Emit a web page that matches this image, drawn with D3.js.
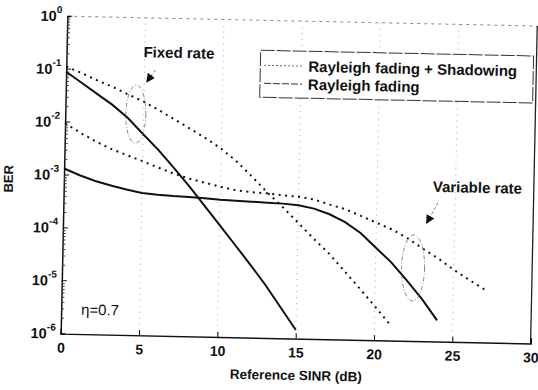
<!DOCTYPE html>
<html>
<head>
<meta charset="utf-8">
<script src="https://cdn.jsdelivr.net/npm/d3@7"></script>
<style>
  body { margin: 0; background: #fff; }
  text { font-family: "Liberation Sans", Arial, sans-serif; fill: #111; }
</style>
</head>
<body>
<script>
// SNR axis (dB)
const snrFixedR = [0,1,2,3,4,5,6,7,8,9,10,11,12,13,14,15];
const berFixedR = [8.9e-2,5.6e-2,3.5e-2,2.2e-2,1.26e-2,6.3e-3,3.2e-3,1.5e-3,6.9e-4,3.0e-4,1.3e-4,5.6e-5,2.4e-5,1.0e-5,3.8e-6,1.45e-6];

const snrFixedS = [0,1,2,3,4,5,6,7,8,9,10,11,12,13,14,15,16,17,18,19,20,21];
const berFixedS = [1.12e-1,8.5e-2,6.3e-2,4.8e-2,3.5e-2,2.6e-2,1.8e-2,1.23e-2,8.3e-3,5.6e-3,3.6e-3,2.1e-3,1.1e-3,5.6e-4,3.0e-4,1.55e-4,7.9e-5,4.2e-5,2.0e-5,9.5e-6,4.4e-6,2.0e-6];

const snrVarS = [0,1,2,3,4,5,6,7,8,9,10,11,12,13,14,15,16,17,18,19,20,21,22,23,24,25,26,27];
const berVarS = [9.5e-3,6.3e-3,4.4e-3,3.2e-3,2.5e-3,1.95e-3,1.5e-3,1.17e-3,9.5e-4,8.1e-4,6.9e-4,6.0e-4,5.6e-4,5.4e-4,5.0e-4,4.8e-4,4.3e-4,3.5e-4,2.9e-4,2.2e-4,1.66e-4,1.26e-4,8.7e-5,5.6e-5,3.7e-5,2.3e-5,1.5e-5,1.0e-5];

const snrVarR = [0,1,2,3,4,5,6,7,8,9,10,11,12,13,14,15,16,17,18,19,20,21,22,23,24];
const berVarR = [1.32e-3,1.0e-3,7.9e-4,6.6e-4,5.6e-4,4.9e-4,4.6e-4,4.4e-4,4.3e-4,4.1e-4,3.9e-4,3.8e-4,3.7e-4,3.6e-4,3.5e-4,3.3e-4,2.9e-4,2.3e-4,1.66e-4,1.05e-4,5.6e-5,3.0e-5,1.4e-5,6.3e-6,2.5e-6];

const xTicks = [0,5,10,15,20,25,30];
const yExps = [0,-1,-2,-3,-4,-5,-6];
const legendLabels = ['Rayleigh fading + Shadowing', 'Rayleigh fading'];

const width = 538, height = 390;
const margin = {top: 21, right: 4, bottom: 51.5, left: 64};

const svg = d3.select('body').append('svg')
  .attr('width', width)
  .attr('height', height);

// whole figure is slightly tilted, like the scanned page
const g = svg.append('g').attr('transform', 'rotate(1.2,295,178)');

const x = d3.scaleLinear().domain([0, 30]).range([margin.left, width - margin.right]);
const y = d3.scaleLog().domain([1e-6, 1]).range([height - margin.bottom, margin.top]);

// faint grid
g.append('g').selectAll('line')
  .data(xTicks.slice(1, -1))
  .join('line')
  .attr('x1', d => x(d)).attr('x2', d => x(d))
  .attr('y1', y(1)).attr('y2', y(1e-6))
  .attr('stroke', '#aaa').attr('stroke-width', 1)
  .attr('stroke-dasharray', '1,5');

// frame
g.append('line')
  .attr('x1', x(0)).attr('x2', x(30)).attr('y1', y(1)).attr('y2', y(1))
  .attr('stroke', '#888').attr('stroke-dasharray', '3,4');
g.append('line')
  .attr('x1', x(30)).attr('x2', x(30)).attr('y1', y(1)).attr('y2', y(1e-6))
  .attr('stroke', '#222').attr('stroke-width', 1.3);

const xAxis = g.append('g')
  .attr('transform', `translate(0,${y(1e-6)})`)
  .call(d3.axisBottom(x).tickValues(xTicks).tickSize(-5).tickFormat(d3.format('d')).tickPadding(9))
  .call(a => a.select('.domain').attr('stroke', '#111').attr('stroke-width', 1.5));
xAxis.selectAll('text')
  .style('font-size', '14px').style('font-weight', 'bold');

// y axis: decades + minor ticks
const minor = [];
for (let e = -6; e < 0; e++) for (let m = 2; m <= 9; m++) minor.push(m * Math.pow(10, e));
const yAxis = g.append('g')
  .attr('transform', `translate(${x(0)},0)`)
  .call(d3.axisLeft(y).tickValues(minor).tickSize(-3).tickFormat(''))
  .call(a => a.select('.domain').attr('stroke', '#111').attr('stroke-width', 1.5));
yAxis.selectAll('.tick line').attr('stroke', '#444');

const yMajor = g.append('g').selectAll('g')
  .data(yExps)
  .join('g')
  .attr('transform', d => `translate(0,${y(Math.pow(10, d))})`);
yMajor.append('line')
  .attr('x1', x(0)).attr('x2', x(0) + 5)
  .attr('stroke', '#111');
const yt = yMajor.append('text')
  .attr('x', x(0) - 5).attr('y', 5)
  .attr('text-anchor', 'end')
  .style('font-weight', 'bold');
yt.append('tspan').style('font-size', '14.5px').text('10');
yt.append('tspan').attr('dy', -8).style('font-size', '10px').text(d => d === 0 ? '0' : '-' + (-d));

// axis titles
g.append('text')
  .attr('x', x(15) + 1).attr('y', 380)
  .attr('text-anchor', 'middle')
  .style('font-size', '13.5px').style('font-weight', 'bold')
  .text('Reference SINR (dB)');
g.append('text')
  .attr('transform', `translate(13,${y(1e-3) + 5}) rotate(-90)`)
  .attr('text-anchor', 'middle')
  .style('font-size', '13px').style('font-weight', 'bold')
  .text('BER');

// curves
const line = d3.line().x(d => x(d[0])).y(d => y(d[1]));
const series = [
  {snr: snrFixedS, ber: berFixedS, dotted: true},
  {snr: snrVarS, ber: berVarS, dotted: true},
  {snr: snrFixedR, ber: berFixedR, dotted: false},
  {snr: snrVarR, ber: berVarR, dotted: false}
];
g.append('g').selectAll('path')
  .data(series)
  .join('path')
  .attr('d', s => line(s.snr.map((v, i) => [v, s.ber[i]])))
  .attr('fill', 'none')
  .attr('stroke', '#111')
  .attr('stroke-width', 2)
  .attr('stroke-dasharray', s => s.dotted ? '2,4.5' : null);

// legend
const lg = g.append('g');
lg.append('rect')
  .attr('x', 258).attr('y', 51).attr('width', 273).attr('height', 47)
  .attr('fill', '#fff').attr('stroke', '#333').attr('stroke-width', 1)
  .attr('stroke-dasharray', '14,2');
lg.selectAll('g.item')
  .data(legendLabels)
  .join('g')
  .attr('class', 'item')
  .attr('transform', (d, i) => `translate(0,${66 + i * 18})`)
  .each(function (d, i) {
    d3.select(this).append('line')
      .attr('x1', 262).attr('x2', 300)
      .attr('stroke', '#333').attr('stroke-width', 1)
      .attr('stroke-dasharray', i === 0 ? '1.5,2.5' : '7,2');
    d3.select(this).append('text')
      .attr('x', 306).attr('y', 5.5)
      .style('font-size', '15px').style('font-weight', 'bold')
      .text(d);
  });

// annotations
const ann = g.append('g');
ann.append('ellipse')
  .attr('cx', x(4.5)).attr('cy', y(1.5e-2))
  .attr('rx', 10).attr('ry', 29)
  .attr('fill', 'none').attr('stroke', '#666').attr('stroke-width', 0.8)
  .attr('stroke-dasharray', '4,2,1,2');
ann.append('ellipse')
  .attr('cx', x(22.4)).attr('cy', y(2.4e-5))
  .attr('rx', 11.5).attr('ry', 33)
  .attr('fill', 'none').attr('stroke', '#666').attr('stroke-width', 0.8)
  .attr('stroke-dasharray', '4,2,1,2');

svg.append('defs').append('marker')
  .attr('id', 'ah').attr('viewBox', '0 0 10 10')
  .attr('refX', 9).attr('refY', 5)
  .attr('markerWidth', 9).attr('markerHeight', 9)
  .attr('markerUnits', 'userSpaceOnUse')
  .attr('orient', 'auto')
  .append('path').attr('d', 'M0,0 L10,5 L0,10 z').attr('fill', '#111');

ann.append('line')
  .attr('x1', x(5.7)).attr('y1', y(Math.pow(10, -0.98)))
  .attr('x2', x(5.15)).attr('y2', y(Math.pow(10, -1.21)))
  .attr('stroke', '#666').attr('stroke-width', 0.8).attr('stroke-dasharray', '3,2')
  .attr('marker-end', 'url(#ah)');
ann.append('line')
  .attr('x1', x(23.9)).attr('y1', y(Math.pow(10, -3.38)))
  .attr('x2', x(23.2)).attr('y2', y(Math.pow(10, -3.77)))
  .attr('stroke', '#666').attr('stroke-width', 0.8).attr('stroke-dasharray', '3,2')
  .attr('marker-end', 'url(#ah)');

ann.append('text')
  .attr('x', x(7.17)).attr('y', y(Math.pow(10, -0.65)) + 5)
  .attr('text-anchor', 'middle')
  .style('font-size', '15px').style('font-weight', 'bold')
  .text('Fixed rate');
ann.append('text')
  .attr('x', x(26.4)).attr('y', y(Math.pow(10, -3.08)) + 5)
  .attr('text-anchor', 'middle')
  .style('font-size', '15px').style('font-weight', 'bold')
  .text('Variable rate');
ann.append('text')
  .attr('x', x(2.48)).attr('y', y(Math.pow(10, -5.54)) + 5)
  .attr('text-anchor', 'middle')
  .style('font-size', '15px')
  .text('η=0.7');
</script>
</body>
</html>
